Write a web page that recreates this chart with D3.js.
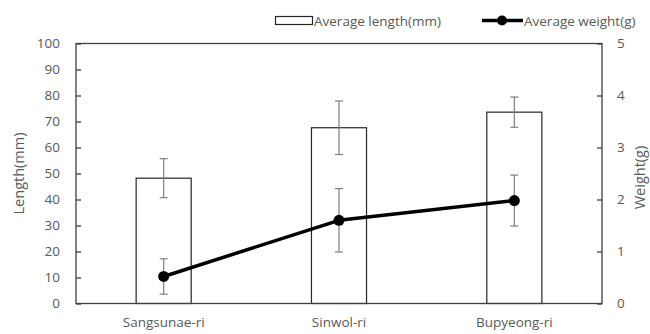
<!DOCTYPE html>
<html lang="en">
<head>
    <meta charset="UTF-8">
    <title>Length and weight by site</title>
    <script src="https://d3js.org/d3.v7.min.js"></script>
    <style>
        body {
            margin: 0;
            background: #ffffff;
        }
        svg text {
            font-family: 'Open Sans', sans-serif;
            fill: #595959;
        }
    </style>
</head>
<body>
    <div id="chart"></div>
    <script>
        // values
        const sites = ['Sangsunae-ri', 'Sinwol-ri', 'Bupyeong-ri'];
        const lengthMean = [48.2, 67.6, 73.6];
        const lengthErr = [7.5, 10.3, 5.8];
        const weightMean = [0.52, 1.60, 1.98];
        const weightErr = [0.34, 0.61, 0.49];
        const lengthTicks = [0, 10, 20, 30, 40, 50, 60, 70, 80, 90, 100];
        const weightTicks = [0, 1, 2, 3, 4, 5];

        const width = 650, height = 334;
        const margin = { top: 43.5, right: 48, bottom: 30.5, left: 76 };

        const svg = d3.select('#chart')
            .append('svg')
            .attr('width', width)
            .attr('height', height);

        const x = d3.scaleBand()
            .domain(sites)
            .range([margin.left, width - margin.right])
            .paddingInner(0.686)
            .paddingOuter(0.343);

        const yL = d3.scaleLinear().domain([0, 100]).range([height - margin.bottom, margin.top]);
        const yR = d3.scaleLinear().domain([0, 5]).range([height - margin.bottom, margin.top]);

        const frameColor = '#404040';

        // bars
        svg.selectAll('.bar')
            .data(sites)
            .enter()
            .append('rect')
            .attr('class', 'bar')
            .attr('x', d => x(d))
            .attr('y', (d, i) => yL(lengthMean[i]))
            .attr('width', x.bandwidth())
            .attr('height', (d, i) => yL(0) - yL(lengthMean[i]))
            .attr('fill', '#ffffff')
            .attr('stroke', '#262626')
            .attr('stroke-width', 1.2);

        // error bars helper
        function errorBars(cls, means, errs, scale) {
            const g = svg.append('g').attr('class', cls)
                .attr('stroke', '#7f7f7f')
                .attr('stroke-width', 1.2);
            sites.forEach((s, i) => {
                const cx = x(s) + x.bandwidth() / 2;
                const top = scale(means[i] + errs[i]);
                const bot = scale(means[i] - errs[i]);
                g.append('line').attr('x1', cx).attr('x2', cx).attr('y1', top).attr('y2', bot);
                g.append('line').attr('x1', cx - 4).attr('x2', cx + 4).attr('y1', top).attr('y2', top);
                g.append('line').attr('x1', cx - 4).attr('x2', cx + 4).attr('y1', bot).attr('y2', bot);
            });
        }
        errorBars('len-err', lengthMean, lengthErr, yL);
        errorBars('wt-err', weightMean, weightErr, yR);

        // weight line
        const line = d3.line()
            .x((d, i) => x(sites[i]) + x.bandwidth() / 2)
            .y(d => yR(d));

        svg.append('path')
            .datum(weightMean)
            .attr('d', line)
            .attr('fill', 'none')
            .attr('stroke', '#000000')
            .attr('stroke-width', 3.5)
            .attr('stroke-linejoin', 'round');

        svg.selectAll('.dot')
            .data(weightMean)
            .enter()
            .append('circle')
            .attr('class', 'dot')
            .attr('cx', (d, i) => x(sites[i]) + x.bandwidth() / 2)
            .attr('cy', d => yR(d))
            .attr('r', 5.5)
            .attr('fill', '#000000');

        // frame
        svg.append('rect')
            .attr('x', margin.left)
            .attr('y', margin.top)
            .attr('width', width - margin.left - margin.right)
            .attr('height', height - margin.top - margin.bottom)
            .attr('fill', 'none')
            .attr('stroke', frameColor)
            .attr('stroke-width', 1.3);

        // left axis (ticks point inward)
        const leftAxis = svg.append('g')
            .attr('transform', `translate(${margin.left},0)`)
            .call(d3.axisLeft(yL).tickValues(lengthTicks).tickSizeInner(-5).tickSizeOuter(0).tickPadding(16));
        leftAxis.select('.domain').remove();
        leftAxis.selectAll('line').attr('stroke', frameColor).attr('stroke-width', 1.3);
        leftAxis.selectAll('text').attr('font-size', '13.5px').attr('fill', '#595959');

        // right axis
        const rightAxis = svg.append('g')
            .attr('transform', `translate(${width - margin.right},0)`)
            .call(d3.axisRight(yR).tickValues(weightTicks).tickFormat(d3.format('d'))
                .tickSizeInner(-5).tickSizeOuter(0).tickPadding(15));
        rightAxis.select('.domain').remove();
        rightAxis.selectAll('line').attr('stroke', frameColor).attr('stroke-width', 1.3);
        rightAxis.selectAll('text').attr('font-size', '13.5px').attr('fill', '#595959');

        // bottom labels
        const bottomAxis = svg.append('g')
            .attr('transform', `translate(0,${height - margin.bottom})`)
            .call(d3.axisBottom(x).tickSize(0).tickPadding(14));
        bottomAxis.select('.domain').remove();
        bottomAxis.selectAll('text').attr('font-size', '13.5px').attr('fill', '#595959');

        // axis titles
        svg.append('text')
            .attr('transform', `translate(24,${(margin.top + height - margin.bottom) / 2}) rotate(-90)`)
            .attr('text-anchor', 'middle')
            .attr('font-size', '14.5px')
            .text('Length(mm)');

        svg.append('text')
            .attr('transform', `translate(645,${(margin.top + height - margin.bottom) / 2 + 4}) rotate(-90)`)
            .attr('text-anchor', 'middle')
            .attr('font-size', '14.5px')
            .text('Weight(g)');

        // legend
        const legend = svg.append('g');
        legend.append('rect')
            .attr('x', 275.5).attr('y', 16.5)
            .attr('width', 37).attr('height', 8)
            .attr('fill', '#ffffff')
            .attr('stroke', '#262626')
            .attr('stroke-width', 1.2);
        legend.append('text')
            .attr('x', 314).attr('y', 21)
            .attr('dominant-baseline', 'central')
            .attr('font-size', '13.5px')
            .text('Average length(mm)');
        legend.append('line')
            .attr('x1', 482).attr('x2', 523)
            .attr('y1', 20.5).attr('y2', 20.5)
            .attr('stroke', '#000000')
            .attr('stroke-width', 3.5);
        legend.append('circle')
            .attr('cx', 502).attr('cy', 20.5).attr('r', 5)
            .attr('fill', '#000000');
        legend.append('text')
            .attr('x', 524).attr('y', 21)
            .attr('dominant-baseline', 'central')
            .attr('font-size', '13.5px')
            .text('Average weight(g)');
    </script>
</body>
</html>
